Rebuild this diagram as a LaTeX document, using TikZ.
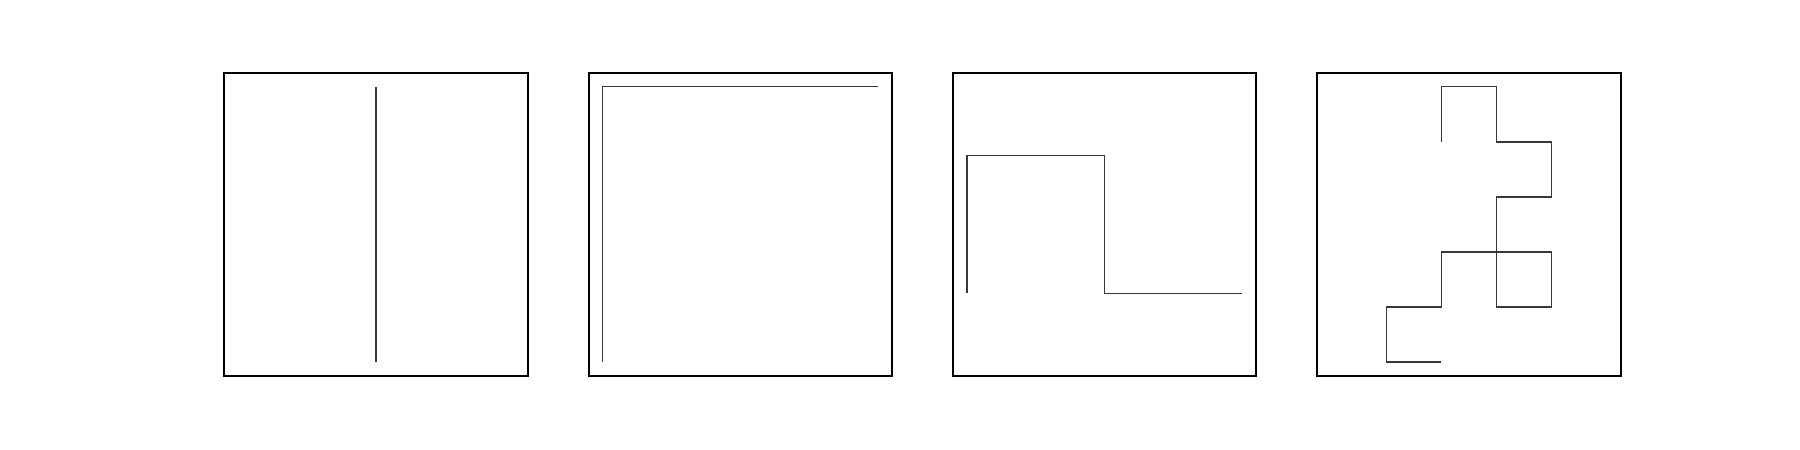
\documentclass[tikz,border=0pt]{standalone}
\definecolor{curvegray}{HTML}{383838}
\tikzset{
  frame/.style={draw=black, line width=2pt},
  curve/.style={draw=curvegray, line width=1.5pt, line join=miter, line cap=butt},
}
\begin{document}
\begin{tikzpicture}[x=1pt, y=-1pt]
\useasboundingbox (0,0) rectangle (1800,450);
% frames
\foreach \xo in {224.3,588.6,952.9,1317.2}{
  \draw[frame] (\xo,72.7) rectangle ++(303.4,303.4);
}
% panel 1
\begin{scope}[shift={(238.3,86.7)}]
  \draw[curve] (137.7,0) -- (137.7,275.4);
\end{scope}
% panel 2
\begin{scope}[shift={(602.6,86.7)}]
  \draw[curve] (275.4,0) -- (0,0) -- (0,275.4);
\end{scope}
% panel 3
\begin{scope}[shift={(966.9,86.7)}, x=68.85pt, y=-68.85pt]
  \draw[curve] (0,3) -- (0,1) -- (2,1) -- (2,3) -- (4,3);
\end{scope}
% panel 4
\begin{scope}[shift={(1331.2,86.7)}, x=55.08pt, y=-55.08pt]
  \draw[curve] (2,1) -- (2,0) -- (3,0) -- (3,1) -- (4,1) -- (4,2) -- (3,2) -- (3,3)
    -- (4,3) -- (4,4) -- (3,4) -- (3,3) -- (2,3) -- (2,4) -- (1,4) -- (1,5) -- (2,5);
\end{scope}
\end{tikzpicture}
\end{document}
